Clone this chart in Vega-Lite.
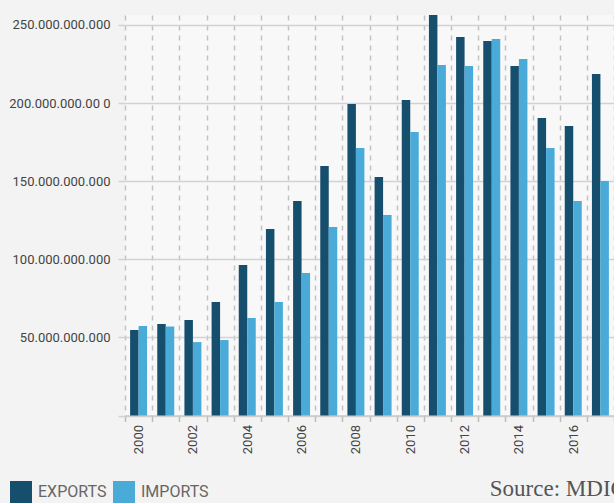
{
  "$schema": "https://vega.github.io/schema/vega-lite/v6.json",
  "autosize": "none",
  "width": 489,
  "height": 400.5,
  "padding": {"left": 125, "top": 15, "right": 0, "bottom": 87.5},
  "background": "#f3f3f3",
  "title": {
    "text": "Source: MDIC",
    "orient": "bottom",
    "anchor": "start",
    "dx": 481,
    "offset": -25,
    "font": "Liberation Serif",
    "fontSize": 23,
    "fontWeight": "normal",
    "color": "#555555"
  },
  "data": {
    "values": [
      {"year": "2000", "type": "Exports", "value": 54700000000},
      {"year": "2000", "type": "Imports", "value": 57300000000},
      {"year": "2001", "type": "Exports", "value": 58600000000},
      {"year": "2001", "type": "Imports", "value": 57000000000},
      {"year": "2002", "type": "Exports", "value": 61100000000},
      {"year": "2002", "type": "Imports", "value": 47000000000},
      {"year": "2003", "type": "Exports", "value": 72700000000},
      {"year": "2003", "type": "Imports", "value": 48300000000},
      {"year": "2004", "type": "Exports", "value": 96400000000},
      {"year": "2004", "type": "Imports", "value": 62400000000},
      {"year": "2005", "type": "Exports", "value": 119400000000},
      {"year": "2005", "type": "Imports", "value": 72700000000},
      {"year": "2006", "type": "Exports", "value": 137300000000},
      {"year": "2006", "type": "Imports", "value": 91200000000},
      {"year": "2007", "type": "Exports", "value": 159700000000},
      {"year": "2007", "type": "Imports", "value": 120700000000},
      {"year": "2008", "type": "Exports", "value": 199400000000},
      {"year": "2008", "type": "Imports", "value": 171300000000},
      {"year": "2009", "type": "Exports", "value": 152700000000},
      {"year": "2009", "type": "Imports", "value": 128400000000},
      {"year": "2010", "type": "Exports", "value": 202000000000},
      {"year": "2010", "type": "Imports", "value": 181500000000},
      {"year": "2011", "type": "Exports", "value": 256400000000},
      {"year": "2011", "type": "Imports", "value": 224400000000},
      {"year": "2012", "type": "Exports", "value": 242300000000},
      {"year": "2012", "type": "Imports", "value": 223800000000},
      {"year": "2013", "type": "Exports", "value": 239700000000},
      {"year": "2013", "type": "Imports", "value": 241000000000},
      {"year": "2014", "type": "Exports", "value": 223800000000},
      {"year": "2014", "type": "Imports", "value": 228300000000},
      {"year": "2015", "type": "Exports", "value": 190500000000},
      {"year": "2015", "type": "Imports", "value": 171300000000},
      {"year": "2016", "type": "Exports", "value": 185300000000},
      {"year": "2016", "type": "Imports", "value": 137300000000},
      {"year": "2017", "type": "Exports", "value": 218600000000},
      {"year": "2017", "type": "Imports", "value": 150100000000}
    ]
  },
  "mark": {"type": "bar"},
  "encoding": {
    "x": {
      "field": "year",
      "type": "ordinal",
      "scale": {"paddingInner": 0, "paddingOuter": 0},
      "axis": {
        "title": null,
        "labelAngle": -90,
        "tickBand": "extent",
        "labelExpr": "toNumber(datum.value) % 2 == 0 ? datum.label : ''",
        "grid": true,
        "gridDash": [5, 5],
        "gridColor": "#c2c2c2",
        "gridWidth": 1.5,
        "domainColor": "#cccccc",
        "domainWidth": 1.5,
        "tickColor": "#bbbbbb",
        "tickSize": 6,
        "tickWidth": 1.5,
        "labelPadding": 3,
        "labelFont": "Roboto",
        "labelFontSize": 13,
        "labelColor": "#444444"
      }
    },
    "xOffset": {
      "field": "type",
      "type": "nominal",
      "scale": {"paddingInner": 0, "paddingOuter": 0.6}
    },
    "y": {
      "field": "value",
      "type": "quantitative",
      "scale": {"domain": [0, 256400000000], "nice": false},
      "axis": {
        "title": null,
        "values": [0, 50000000000, 100000000000, 150000000000, 200000000000, 250000000000],
        "labelExpr": "datum.value == 0 ? '' : (datum.value == 200000000000 ? '200.000.000.00 0' : format(datum.value / 1000000000, 'd') + '.000.000.000')",
        "domain": false,
        "gridColor": "#d2d2d2",
        "gridWidth": 1.5,
        "tickColor": "#d2d2d2",
        "tickSize": 7,
        "tickWidth": 1.5,
        "labelPadding": 8,
        "labelFont": "Roboto",
        "labelFontSize": 13,
        "labelColor": "#444444"
      }
    },
    "color": {
      "field": "type",
      "type": "nominal",
      "scale": {"domain": ["Exports", "Imports"], "range": ["#164f6d", "#4aabd9"]},
      "legend": {
        "title": null,
        "orient": "none",
        "direction": "horizontal",
        "legendX": -115,
        "legendY": 466,
        "symbolType": "square",
        "symbolSize": 484,
        "symbolStrokeWidth": 0,
        "symbolOpacity": 1,
        "labelExpr": "upper(datum.label)",
        "labelFont": "Roboto",
        "labelFontSize": 16,
        "labelColor": "#666666",
        "labelOffset": 6,
        "columnPadding": 6
      }
    }
  },
  "config": {
    "view": {"stroke": null, "fill": "#f8f8f8"}
  }
}
